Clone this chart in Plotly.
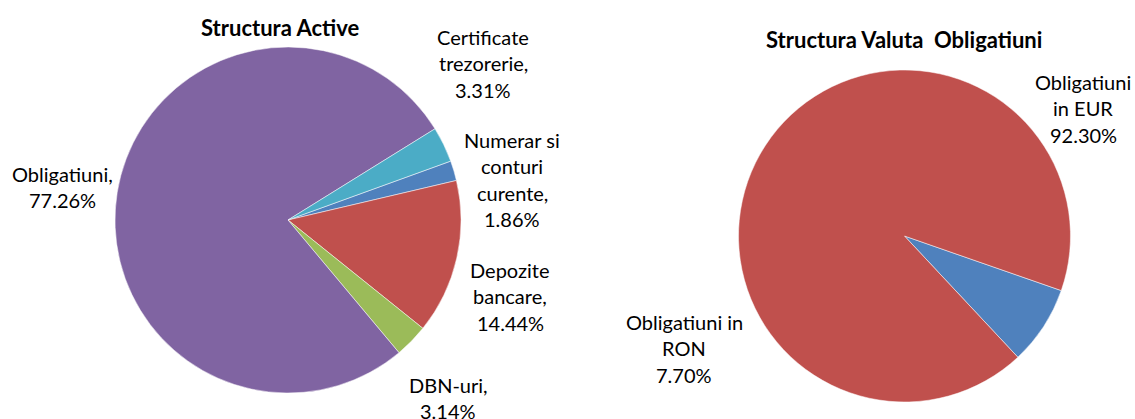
import plotly.graph_objects as go

# ---- data ----
active_labels = ["Numerar si conturi curente", "Depozite bancare", "DBN-uri", "Obligatiuni", "Certificate trezorerie"]
active_values = [1.86, 14.44, 3.14, 77.26, 3.31]
active_colors = ["#4F81BD", "#C0504D", "#9BBB59", "#8064A2", "#4BACC6"]

valuta_labels = ["Obligatiuni in RON", "Obligatiuni in EUR"]
valuta_values = [7.70, 92.30]
valuta_colors = ["#4F81BD", "#C0504D"]

W, H = 1135, 419
FONT = "Lato"

fig = go.Figure()
fig.add_trace(go.Pie(
    labels=active_labels, values=active_values, sort=False,
    direction="clockwise", rotation=70.1,
    marker=dict(colors=active_colors, line=dict(color="white", width=0.5)),
    textinfo="none", hoverinfo="label+percent", showlegend=False,
    domain=dict(x=[115 / W, 461 / W], y=[1 - 393 / H, 1 - 47 / H]),
))
fig.add_trace(go.Pie(
    labels=valuta_labels, values=valuta_values, sort=False,
    direction="clockwise", rotation=109.2,
    marker=dict(colors=valuta_colors, line=dict(color="white", width=0.5)),
    textinfo="none", hoverinfo="label+percent", showlegend=False,
    domain=dict(x=[738.5 / W, 1070.5 / W], y=[1 - 402 / H, 1 - 70 / H]),
))

# label wrapping and placement (pixels: center x, top-line y)
active_wrap = {
    "Numerar si conturi curente": (["Numerar si", "conturi", "curente,"], 512, 140),
    "Depozite bancare": (["Depozite", "bancare,"], 510, 270),
    "DBN-uri": (["DBN-uri,"], 448, 385),
    "Obligatiuni": (["Obligatiuni,"], 62, 174),
    "Certificate trezorerie": (["Certificate", "trezorerie,"], 483, 37),
}
valuta_wrap = {
    "Obligatiuni in RON": (["Obligatiuni in", "RON"], 684, 322),
    "Obligatiuni in EUR": (["Obligatiuni", "in EUR"], 1083, 82),
}

LINE = 26.3
annotations = []

def add_label(lines, value, cx, y0):
    all_lines = lines + [f"{value:.2f}%"]
    for i, t in enumerate(all_lines):
        annotations.append(dict(
            x=cx / W, y=1 - (y0 + i * LINE) / H, xref="paper", yref="paper",
            text=t, showarrow=False, xanchor="center", yanchor="middle",
            font=dict(family=FONT, size=20, color="#000000"),
        ))

for lab, val in zip(active_labels, active_values):
    lines, cx, y0 = active_wrap[lab]
    add_label(lines, val, cx, y0)
for lab, val in zip(valuta_labels, valuta_values):
    lines, cx, y0 = valuta_wrap[lab]
    add_label(lines, val, cx, y0)

annotations.append(dict(x=280 / W, y=1 - 27 / H, xref="paper", yref="paper",
                        text="<b>Structura Active</b>", showarrow=False,
                        xanchor="center", yanchor="middle",
                        font=dict(family=FONT, size=22, color="#000000")))
annotations.append(dict(x=904 / W, y=1 - 40 / H, xref="paper", yref="paper",
                        text="<b>Structura Valuta  Obligatiuni</b>", showarrow=False,
                        xanchor="center", yanchor="middle",
                        font=dict(family=FONT, size=22, color="#000000")))

fig.update_layout(
    width=W, height=H, margin=dict(l=0, r=0, t=0, b=0),
    paper_bgcolor="white", plot_bgcolor="white",
    annotations=annotations,
)
fig.write_html("out.html")
